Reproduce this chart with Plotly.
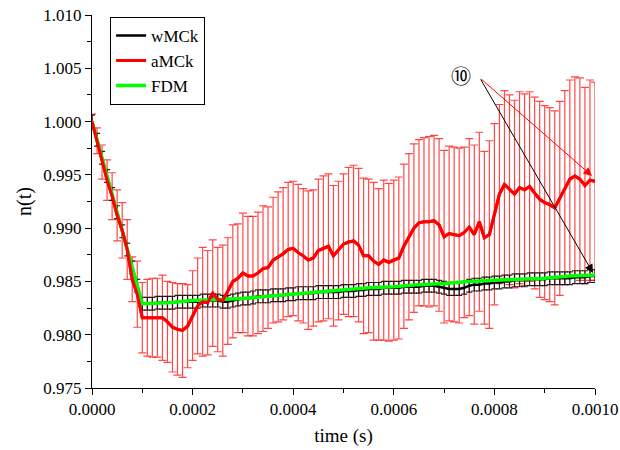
import plotly.graph_objects as go

# ---- data ----
t_step = 1e-5
t = [round(k * t_step, 6) for k in range(101)]

amck = [1.0000, 0.9982, 0.9962, 0.9945, 0.9930, 0.9912, 0.9898, 0.9880, 0.9852, 0.9838,
        0.9816, 0.9816, 0.9816, 0.9816, 0.9816, 0.9812, 0.9807, 0.9805, 0.9804, 0.9808,
        0.9818, 0.9827, 0.9831, 0.9830, 0.9839, 0.9833, 0.9832, 0.9841, 0.9850, 0.9853,
        0.9858, 0.9855, 0.9855, 0.9858, 0.9862, 0.9863, 0.9870, 0.9873, 0.9876, 0.9880,
        0.9881, 0.9877, 0.9874, 0.9870, 0.9872, 0.9879, 0.9881, 0.9883, 0.9874, 0.9879,
        0.9885, 0.9887, 0.9888, 0.9884, 0.9874, 0.9874, 0.9869, 0.9866, 0.9870, 0.9868,
        0.9870, 0.9872, 0.9883, 0.9892, 0.9900, 0.9905, 0.9906, 0.9906, 0.9907, 0.9903,
        0.9892, 0.9895, 0.9894, 0.9893, 0.9896, 0.9901, 0.9894, 0.9906, 0.9891, 0.9894,
        0.9913, 0.9932, 0.9941, 0.9936, 0.9932, 0.9938, 0.9936, 0.9939, 0.9933, 0.9927,
        0.9924, 0.9922, 0.9919, 0.9928, 0.9938, 0.9946, 0.9949, 0.9946, 0.9940, 0.9945,
        0.9944]

amck_err = [0.0007, 0.0012, 0.0016, 0.0019, 0.0022, 0.0024, 0.0026, 0.0028, 0.0021, 0.0031,
            0.0033, 0.0036, 0.0037, 0.0037, 0.0040, 0.0038, 0.0042, 0.0043, 0.0044, 0.0039,
            0.0042, 0.0045, 0.0051, 0.0049, 0.0050, 0.0049, 0.0052, 0.0050, 0.0053, 0.0051,
            0.0056, 0.0056, 0.0056, 0.0057, 0.0059, 0.0057, 0.0059, 0.0061, 0.0062, 0.0063,
            0.0063, 0.0064, 0.0063, 0.0065, 0.0064, 0.0067, 0.0068, 0.0068, 0.0066, 0.0065,
            0.0066, 0.0070, 0.0071, 0.0072, 0.0073, 0.0072, 0.0074, 0.0071, 0.0075, 0.0074,
            0.0075, 0.0076, 0.0077, 0.0078, 0.0079, 0.0078, 0.0079, 0.0080, 0.0080, 0.0081,
            0.0081, 0.0082, 0.0082, 0.0082, 0.0080, 0.0083, 0.0084, 0.0084, 0.0081, 0.0088,
            0.0085, 0.0084, 0.0088, 0.0089, 0.0088, 0.0090, 0.0090, 0.0089, 0.0090, 0.0092,
            0.0091, 0.0091, 0.0091, 0.0091, 0.0091, 0.0093, 0.0093, 0.0095, 0.0092, 0.0094,
            0.0093]

wmck = [1.0000, 0.9983, 0.9966, 0.9949, 0.9932, 0.9915, 0.9897, 0.9880, 0.9863, 0.9846,
        0.9829, 0.9829, 0.9829, 0.9830, 0.9830, 0.9830, 0.9830, 0.9831, 0.9831, 0.9831,
        0.9831, 0.9831, 0.9832, 0.9832, 0.9832, 0.9832, 0.9831, 0.9831, 0.9832, 0.9833,
        0.9834, 0.9834, 0.9835, 0.9836, 0.9836, 0.9836, 0.9837, 0.9837, 0.9837, 0.9838,
        0.9838, 0.9839, 0.9839, 0.9839, 0.9839, 0.9840, 0.9840, 0.9840, 0.9840, 0.9840,
        0.9841, 0.9841, 0.9841, 0.9842, 0.9842, 0.9843, 0.9843, 0.9843, 0.9844, 0.9844,
        0.9844, 0.9844, 0.9845, 0.9845, 0.9845, 0.9845, 0.9846, 0.9846, 0.9846, 0.9845,
        0.9844, 0.9843, 0.9843, 0.9843, 0.9844, 0.9846, 0.9847, 0.9847, 0.9848, 0.9848,
        0.9849, 0.9849, 0.9850, 0.9850, 0.9851, 0.9851, 0.9851, 0.9852, 0.9852, 0.9852,
        0.9852, 0.9853, 0.9853, 0.9853, 0.9853, 0.9853, 0.9854, 0.9854, 0.9854, 0.9855,
        0.9855]
wmck_err = 0.0006

fdm_t = [0.0, 0.00005, 0.0001, 0.00015, 0.0002, 0.00025, 0.0003, 0.00035, 0.0004,
         0.00045, 0.0005, 0.00055, 0.0006, 0.00065, 0.0007, 0.00075, 0.0008, 0.00085,
         0.0009, 0.00095, 0.001]
fdm = [1.0000, 0.99145, 0.9829, 0.9830, 0.9832, 0.9833, 0.9834, 0.9836, 0.9838, 0.9840,
       0.9842, 0.9844, 0.9845, 0.9847, 0.9848, 0.9850, 0.9851, 0.9852, 0.9853, 0.9855,
       0.9856]

x_ticks = [0.0, 0.0002, 0.0004, 0.0006, 0.0008, 0.0010]
y_ticks = [0.975, 0.980, 0.985, 0.990, 0.995, 1.000, 1.005, 1.010]

label_text = "⑩"
label_pos = (7.34e-4, 1.0043)
arrow_tail = (7.71e-4, 1.0041)
arrow_black_head = (9.96e-4, 0.9858)
arrow_red_head = (9.94e-4, 0.9949)

FONT = "Liberation Serif, Times New Roman, serif"

fig = go.Figure()

fig.add_trace(go.Scatter(
    x=t, y=amck, mode="lines", name="aMCk", legendrank=2,
    line=dict(color="#ff0000", width=3),
    error_y=dict(type="data", array=amck_err, visible=True,
                 color="rgba(255,0,0,0.72)", thickness=1.2, width=4),
))
fig.add_trace(go.Scatter(
    x=t, y=wmck, mode="lines", name="wMCk", legendrank=1,
    line=dict(color="#000000", width=2.5),
    error_y=dict(type="constant", value=wmck_err, visible=True,
                 color="rgba(0,0,0,0.85)", thickness=1.2, width=3),
))
fig.add_trace(go.Scatter(
    x=fdm_t, y=fdm, mode="lines", name="FDM", legendrank=3,
    line=dict(color="#00ff00", width=3.5),
))
fig.add_trace(go.Scatter(
    x=t, y=amck, mode="lines", showlegend=False, hoverinfo="skip",
    line=dict(color="#ff0000", width=3),
))

fig.add_annotation(x=label_pos[0], y=label_pos[1], xref="x", yref="y",
                   text=label_text, showarrow=False,
                   font=dict(family="Noto Sans CJK JP, DejaVu Sans", size=20, color="black"))
fig.add_annotation(x=arrow_black_head[0], y=arrow_black_head[1], xref="x", yref="y",
                   ax=arrow_tail[0], ay=arrow_tail[1], axref="x", ayref="y",
                   text="", showarrow=True, arrowhead=2, arrowsize=1.7, arrowwidth=1,
                   arrowcolor="black")
fig.add_annotation(x=arrow_red_head[0], y=arrow_red_head[1], xref="x", yref="y",
                   ax=arrow_tail[0], ay=arrow_tail[1], axref="x", ayref="y",
                   text="", showarrow=True, arrowhead=2, arrowsize=1.7, arrowwidth=1,
                   arrowcolor="red")

fig.update_layout(
    width=620, height=450,
    margin=dict(l=92, r=25, t=15, b=62),
    paper_bgcolor="white", plot_bgcolor="white",
    font=dict(family=FONT, size=17, color="black"),
    showlegend=True,
    legend=dict(x=0.036, y=0.995, xanchor="left", yanchor="top",
                bordercolor="black", borderwidth=1, bgcolor="white",
                font=dict(family=FONT, size=17), tracegroupgap=0,
                itemwidth=30),
)
fig.update_xaxes(
    range=[0, 0.001], showgrid=False, zeroline=False, automargin=False,
    showline=True, linecolor="black", linewidth=1,
    ticks="outside", ticklen=6, tickwidth=1, tickcolor="black",
    tickvals=x_ticks, ticktext=[f"{v:.4f}" for v in x_ticks],
    minor=dict(ticks="outside", ticklen=4, tickwidth=1, tickcolor="black", dtick=0.0001),
    title=dict(text="time (s)", font=dict(family=FONT, size=19), standoff=10),
    tickfont=dict(family=FONT, size=17),
)
fig.update_yaxes(
    range=[0.975, 1.010], showgrid=False, zeroline=False, automargin=False,
    showline=True, linecolor="black", linewidth=1,
    ticks="outside", ticklen=6, tickwidth=1, tickcolor="black",
    tickvals=y_ticks, ticktext=[f"{v:.3f}" for v in y_ticks],
    minor=dict(ticks="outside", ticklen=4, tickwidth=1, tickcolor="black", dtick=0.0025),
    title=dict(text="n(t)", font=dict(family=FONT, size=20), standoff=6),
    tickfont=dict(family=FONT, size=17),
)

fig.write_html("out.html")
